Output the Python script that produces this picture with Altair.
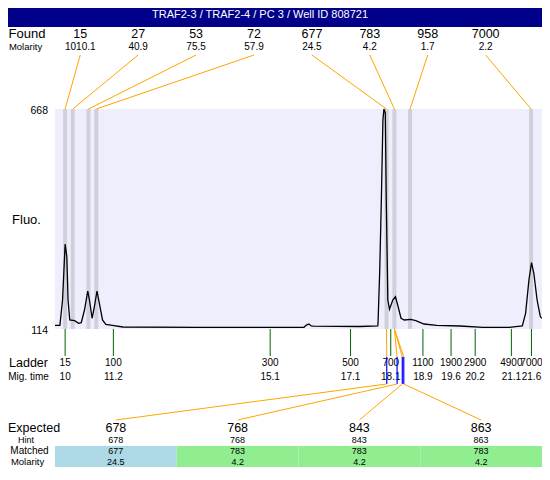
import altair as alt
import pandas as pd

# ---------------- data ----------------
title_text = "TRAF2-3 / TRAF2-4 / PC 3 / Well ID 808721"

curve_time = [9.748, 9.870, 9.936, 10.0, 10.042, 10.073, 10.115, 10.237, 10.335, 10.401,
              10.482, 10.563, 10.605, 10.671, 10.727, 10.793, 10.849, 10.930, 11.013, 11.175,
              11.437, 13.297, 15.940, 16.001, 16.062, 16.123, 16.185, 17.335, 17.775, 17.783,
              17.824, 17.866, 17.905, 17.930, 17.964, 17.988, 18.027, 18.069, 18.150, 18.216,
              18.272, 18.355, 18.436, 18.600, 18.722, 18.926, 19.244, 19.824, 20.394, 21.047,
              21.209, 21.373, 21.454, 21.537, 21.601, 21.659, 21.740, 21.821, 21.862]
curve_fluo = [123.3, 123.3, 187, 328, 296, 187, 136.7, 135, 128.4, 130,
              161.8, 209.7, 187, 141, 170, 209.7, 179.5, 136.7, 125.8, 123.3,
              119, 118.3, 118.3, 124, 126.6, 121.6, 121, 120.3, 121.6, 128.4,
              255, 438.8, 640, 668, 658, 438.8, 187, 163.6, 187, 195.3,
              174.4, 141, 136.7, 138.4, 135, 126.6, 123.3, 121.6, 118.3, 118.3,
              119.8, 121.6, 153.5, 237.4, 281, 254.3, 187, 145, 141]

found_size = ["15", "27", "53", "72", "677", "783", "958", "7000"]
found_molarity = ["1010.1", "40.9", "75.5", "57.9", "24.5", "4.2", "1.7", "2.2"]
found_time = [10.0, 10.189, 10.58, 10.776, 17.995, 18.19, 18.58, 21.59]

ladder_size = ["15", "100", "300", "500", "700", "1100", "1900", "2900", "4900", "7000"]
ladder_label = ["10", "11.2", "15.1", "17.1", "18.1", "18.9", "19.6", "20.2", "21.1", "21.6"]
ladder_time = [10, 11.2, 15.1, 17.1, 18.1, 18.9, 19.6, 20.2, 21.1, 21.6]

expected_size = ["678", "768", "843", "863"]
expected_time = [18.0, 18.257, 18.387, 18.424]
hint_size = ["678", "768", "843", "863"]
matched_size = ["677", "783", "783", "783"]
matched_molarity = ["24.5", "4.2", "4.2", "4.2"]
matched_time = [17.995, 18.19, 18.19, 18.19]
matched_kind = ["first", "repeat", "repeat", "repeat"]

fluo_min, fluo_max = 114, 668
time_min, time_max = 9.748, 21.862

# ---------------- layout ----------------
W, H = 534, 459
PLOT_L, PLOT_R, PLOT_T, PLOT_B = 47, 534, 101, 321
FONT = "Liberation Sans"
ORANGE = "#ffa500"

XS = alt.Scale(domain=[time_min, time_max], range=[PLOT_L, PLOT_R], nice=False, zero=False)
YS = alt.Scale(domain=[fluo_min, fluo_max], range=[PLOT_B, PLOT_T], nice=False, zero=False)

span = time_max - time_min
found_slot = [time_min + span * (0.0519 + 0.11891 * i) for i in range(len(found_size))]
n_exp = len(expected_size)
exp_slot = [time_min + span * (i + 0.5) / n_exp for i in range(n_exp)]
exp_left = [time_min + span * i / n_exp for i in range(n_exp)]
exp_right = [time_min + span * (i + 1) / n_exp for i in range(n_exp)]

curve = pd.DataFrame({"t": curve_time, "f": curve_fluo})
found = pd.DataFrame({"t": found_time, "slot": found_slot, "size": found_size,
                      "mol": found_molarity, "f0": fluo_min, "f1": fluo_max})
ladder = pd.DataFrame({"t": ladder_time, "size": ladder_size, "mig": ladder_label})
exp = pd.DataFrame({"t": expected_time, "mt": matched_time, "slot": exp_slot,
                    "l": exp_left, "r": exp_right, "size": expected_size,
                    "hint": hint_size, "matched": matched_size,
                    "mol": matched_molarity, "kind": matched_kind})
plotbox = pd.DataFrame({"t0": [time_min], "t1": [time_max], "f0": [fluo_min], "f1": [fluo_max]})
yticks = pd.DataFrame({"f": [fluo_max, fluo_min], "label": [str(fluo_max), str(fluo_min)]})
one = pd.DataFrame({"title": [title_text]})


def label(text, x, y, size, align="center"):
    return alt.Chart(pd.DataFrame({"txt": [text]})).mark_text(
        font=FONT, fontSize=size, align=align, baseline="middle", color="black"
    ).encode(x=alt.value(x), y=alt.value(y), text="txt:N")


def row_text(df, field, y, size, xfield="slot"):
    return alt.Chart(df).mark_text(font=FONT, fontSize=size, baseline="middle",
                                   color="black").encode(
        x=alt.X(f"{xfield}:Q", scale=XS, axis=None), y=alt.value(y), text=f"{field}:N")


layers = []

# title bar
layers.append(alt.Chart(one).mark_rect(color="#000088").encode(
    x=alt.value(0), x2=alt.value(W), y=alt.value(0), y2=alt.value(19)))
layers.append(alt.Chart(one).mark_text(font=FONT, fontSize=11, color="white",
                                       baseline="middle").encode(
    x=alt.value(252), y=alt.value(6.5), text="title:N"))

# plot background
layers.append(alt.Chart(plotbox).mark_rect(color="#eeeefc").encode(
    x=alt.X("t0:Q", scale=XS, axis=None), x2="t1:Q",
    y=alt.Y("f0:Q", scale=YS, axis=None), y2="f1:Q"))

# found peak bands
layers.append(alt.Chart(found).mark_rule(color="#d0d0dc", strokeWidth=4).encode(
    x=alt.X("t:Q", scale=XS, axis=None),
    y=alt.Y("f0:Q", scale=YS, axis=None), y2="f1:Q"))

# electropherogram
layers.append(alt.Chart(curve).mark_line(color="black", strokeWidth=1.3).encode(
    x=alt.X("t:Q", scale=XS, axis=None), y=alt.Y("f:Q", scale=YS, axis=None)))

# y labels
layers.append(alt.Chart(yticks).mark_text(font=FONT, fontSize=10.5, align="right",
                                          baseline="middle", dy=1.5).encode(
    x=alt.value(40), y=alt.Y("f:Q", scale=YS, axis=None), text="label:N"))

# top connectors and found labels
layers.append(alt.Chart(found).mark_rule(color=ORANGE, strokeWidth=1).encode(
    x=alt.X("slot:Q", scale=XS, axis=None), x2="t:Q",
    y=alt.value(47), y2=alt.value(PLOT_T)))
layers.append(row_text(found, "size", 26, 12.5))
layers.append(row_text(found, "mol", 39, 10))

# ladder
layers.append(alt.Chart(ladder).mark_rule(color="#006400", strokeWidth=1).encode(
    x=alt.X("t:Q", scale=XS, axis=None), y=alt.value(PLOT_B), y2=alt.value(348)))
layers.append(row_text(ladder, "size", 355, 10, "t"))
layers.append(row_text(ladder, "mig", 368.5, 10, "t"))

# expected matching
layers.append(alt.Chart(exp).mark_rule(color=ORANGE, strokeWidth=1).encode(
    x=alt.X("mt:Q", scale=XS, axis=None), x2="t:Q", y=alt.value(PLOT_B), y2=alt.value(349)))
layers.append(alt.Chart(exp).mark_rule(color="#0000ff", strokeWidth=1.2).encode(
    x=alt.X("t:Q", scale=XS, axis=None), y=alt.value(349), y2=alt.value(376)))
layers.append(alt.Chart(exp).mark_rule(color=ORANGE, strokeWidth=1).encode(
    x=alt.X("t:Q", scale=XS, axis=None), x2="slot:Q", y=alt.value(376), y2=alt.value(412)))
layers.append(alt.Chart(exp).mark_rect().encode(
    x=alt.X("l:Q", scale=XS, axis=None), x2="r:Q", y=alt.value(438), y2=alt.value(459),
    color=alt.Color("kind:N", scale=alt.Scale(domain=["first", "repeat"],
                                               range=["#add8e6", "#90ee90"]), legend=None)))
layers.append(row_text(exp, "size", 420, 12.5))
layers.append(row_text(exp, "hint", 432, 9))
layers.append(row_text(exp, "matched", 443, 9))
layers.append(row_text(exp, "mol", 454, 9))

# row captions
layers += [
    label("Found", 19, 26, 13),
    label("Molarity", 17.5, 38.5, 9.5),
    label("Fluo.", 18.5, 212, 13),
    label("Ladder", 20.5, 355, 12.5),
    label("Mig. time", 20.5, 368.5, 10),
    label("Expected", 0, 420, 12.5, "left"),
    label("Hint", 18, 432, 9),
    label("Matched", 21.5, 443, 10),
    label("Molarity", 19.5, 454, 9.5),
]

chart = alt.layer(*layers).properties(
    width=W, height=H, padding=0, autosize=alt.AutoSizeParams(type="none")
).configure_view(stroke=None)

chart.save("out.html", embed_options={"renderer": "svg", "actions": False})
